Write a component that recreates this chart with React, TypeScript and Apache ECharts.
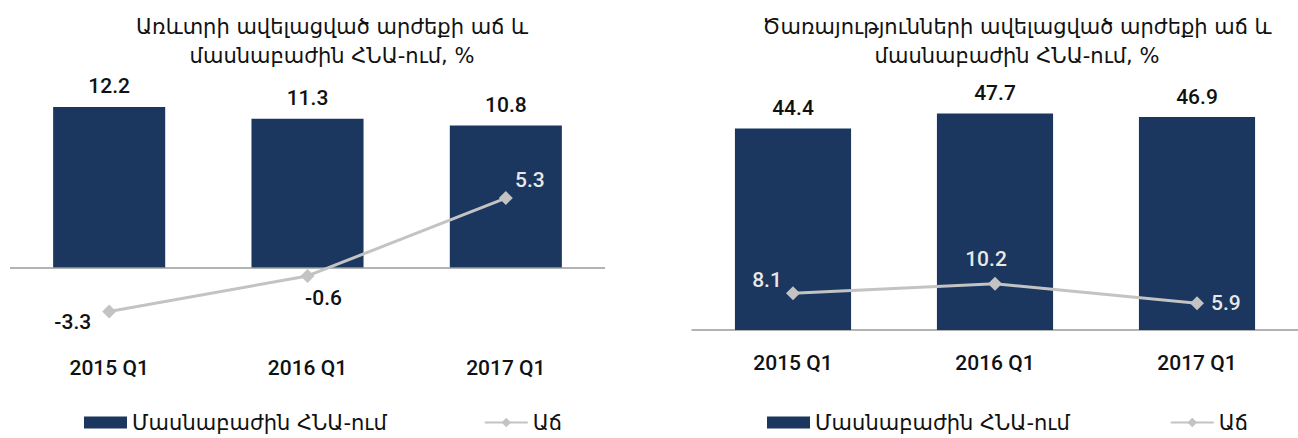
import React, { useEffect, useRef } from "react";
import * as echarts from "echarts";

const categories = ["2015 Q1", "2016 Q1", "2017 Q1"];
const tradeShare = [12.2, 11.3, 10.8];
const tradeGrowth = [-3.3, -0.6, 5.3];
const servShare = [44.4, 47.7, 46.9];
const servGrowth = [8.1, 10.2, 5.9];
const titleLeft = "Առևտրի ավելացված արժեքի աճ և\nմասնաբաժին ՀՆԱ-ում, %";
const titleRight = "Ծառայությունների ավելացված արժեքի աճ և\nմասնաբաժին ՀՆԱ-ում, %";
const shareName = "Մասնաբաժին ՀՆԱ-ում";
const growthName = "Աճ";

const ARM = "'DejaVu Sans', sans-serif";
const NUM = "Roboto, 'Liberation Sans', Arial, sans-serif";
const NAVY = "#1b365f";
const GRAY = "#c3c3c3";

const leftLabelPlace: any[] = [
  { position: "left", distance: 11, offset: [0, 10], color: "#111" },
  { position: "bottom", distance: 5, offset: [16, 0], color: "#111" },
  { position: "top", distance: 1, offset: [24, 0], color: "#e8e8e8" },
];
const rightLabelPlace: any[] = [
  { position: "top", distance: 0, offset: [-26, 4], color: "#e8e8e8" },
  { position: "top", distance: 7, offset: [-9, 0], color: "#e8e8e8" },
  { position: "right", distance: 7, offset: [0, 0], color: "#e8e8e8" },
];

function lineData(vals: number[], places: any[]) {
  return vals.map((v, i) => ({
    value: v,
    label: {
      show: true,
      position: places[i].position,
      distance: places[i].distance,
      offset: places[i].offset,
      color: places[i].color,
    },
  }));
}

export default function App() {
  const ref = useRef<HTMLDivElement>(null);
  useEffect(() => {
    if (!ref.current) return;
    const chart = echarts.init(ref.current, null, { renderer: "svg" });
    const barLabel = {
      show: true,
      position: "top",
      distance: 10,
      color: "#111",
      fontFamily: NUM,
      fontSize: 21,
      fontWeight: 500,
      formatter: (p: any) => p.value.toFixed(1),
    };
    const lineLabelBase = {
      fontFamily: NUM,
      fontSize: 21,
      fontWeight: 500,
      formatter: (p: any) => Number(p.value).toFixed(1),
    };
    const xAxisBase = {
      type: "category",
      data: categories,
      axisLine: { show: false, onZero: false },
      axisTick: { show: false },
      axisLabel: { color: "#111", fontFamily: NUM, fontSize: 21, fontWeight: 500 },
    };
    const yAxisBase = {
      type: "value",
      show: false,
      splitLine: { show: false },
    };
    const titleStyle = { fontFamily: ARM, fontSize: 21, fontWeight: "normal", color: "#111", lineHeight: 29 };
    const legendBase = {
      top: 407,
      itemWidth: 43,
      itemHeight: 12,
      textStyle: { fontFamily: ARM, fontSize: 21, color: "#111" },
      data: [
        { name: shareName, icon: "rect", itemStyle: { color: NAVY } },
        { name: growthName },
      ],
    };
    const option: any = {
      animation: false,
      backgroundColor: "#ffffff",
      title: [
        { text: titleLeft, left: 327, top: 7, textAlign: "center", textStyle: titleStyle },
        { text: titleRight, left: 1012, top: 7, textAlign: "center", textStyle: titleStyle },
      ],
      legend: [
        { ...legendBase, left: 79, itemGap: 97 },
        { ...legendBase, left: 762, itemGap: 100 },
      ],
      grid: [
        { left: 10, width: 595, top: 83.2, height: 264 },
        { left: 692, width: 606, top: 103, height: 227 },
      ],
      xAxis: [
        { ...xAxisBase, gridIndex: 0, axisLabel: { ...xAxisBase.axisLabel, margin: 10 } },
        {
          ...xAxisBase,
          gridIndex: 1,
          axisLine: { show: true, onZero: false, lineStyle: { color: "#9a9a9a", width: 1.5 } },
          axisLabel: { ...xAxisBase.axisLabel, margin: 22 },
        },
      ],
      yAxis: [
        { ...yAxisBase, gridIndex: 0, min: -6, max: 14 },
        { ...yAxisBase, gridIndex: 1, min: 0, max: 50 },
      ],
      series: [
        {
          name: shareName,
          type: "bar",
          xAxisIndex: 0,
          yAxisIndex: 0,
          data: tradeShare,
          barWidth: "56.5%",
          itemStyle: { color: NAVY },
          label: barLabel,
          markLine: {
            silent: true,
            symbol: "none",
            label: { show: false },
            lineStyle: { color: "#9a9a9a", width: 1.5, type: "solid" },
            data: [{ yAxis: 0 }],
          },
        },
        {
          name: growthName,
          type: "line",
          xAxisIndex: 0,
          yAxisIndex: 0,
          data: lineData(tradeGrowth, leftLabelPlace),
          symbol: "diamond",
          symbolSize: 14,
          lineStyle: { color: GRAY, width: 3 },
          itemStyle: { color: GRAY },
          label: lineLabelBase,
          z: 5,
        },
        {
          name: shareName,
          type: "bar",
          xAxisIndex: 1,
          yAxisIndex: 1,
          data: servShare,
          barWidth: "57.5%",
          itemStyle: { color: NAVY },
          label: barLabel,
        },
        {
          name: growthName,
          type: "line",
          xAxisIndex: 1,
          yAxisIndex: 1,
          data: lineData(servGrowth, rightLabelPlace),
          symbol: "diamond",
          symbolSize: 14,
          lineStyle: { color: GRAY, width: 3 },
          itemStyle: { color: GRAY },
          label: lineLabelBase,
          z: 5,
        },
      ],
    };
    chart.setOption(option);
    return () => chart.dispose();
  }, []);
  return (
    <div
      ref={ref}
      style={{ position: "absolute", left: 0, top: 0, width: 1298, height: 438 }}
    />
  );
}
